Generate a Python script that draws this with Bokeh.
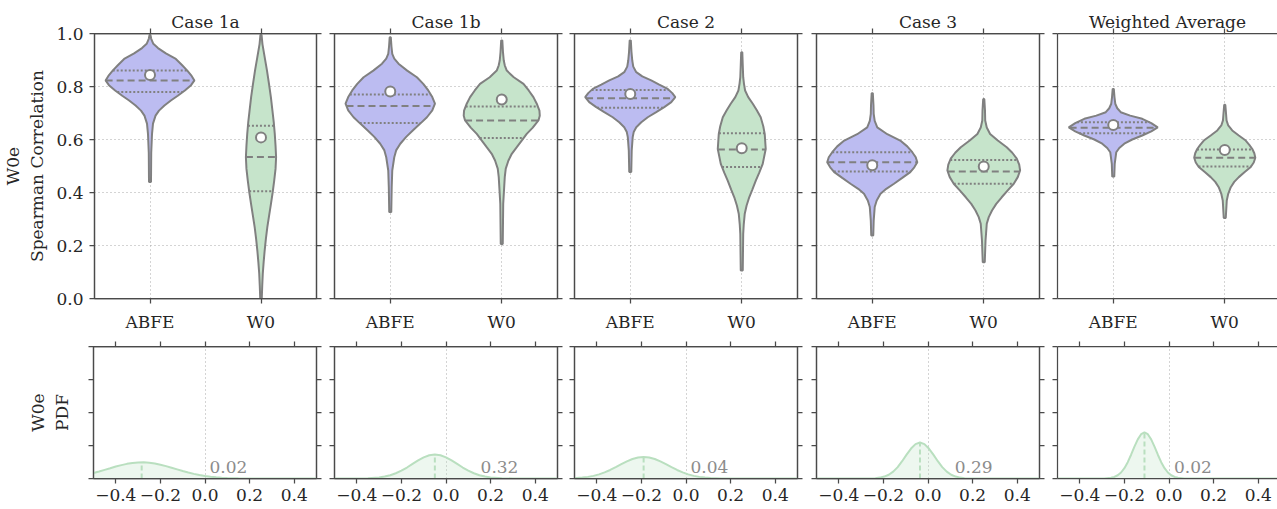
import numpy as np
from bokeh.plotting import figure
from bokeh.layouts import row, column
from bokeh.models import LinearAxis, FixedTicker, Range1d, Label, CustomJSTickFormatter
from bokeh.embed import file_html
from bokeh.resources import INLINE

# ---------------- data ----------------
cases = ["Case 1a", "Case 1b", "Case 2", "Case 3", "Weighted Average"]
methods = ["ABFE", "W0"]

# violin profiles: Spearman correlation value and half width (category units)
c1a_abfe_y = [0.995, 0.98, 0.961, 0.945, 0.925, 0.904, 0.88, 0.86, 0.84, 0.823, 0.805, 0.785, 0.765, 0.747, 0.728, 0.709, 0.69, 0.66, 0.62, 0.55, 0.44]
c1a_abfe_w = [0.004, 0.011, 0.030, 0.072, 0.143, 0.233, 0.290, 0.336, 0.375, 0.400, 0.370, 0.314, 0.250, 0.188, 0.130, 0.081, 0.050, 0.027, 0.018, 0.011, 0.009]
c1a_w0_y = [0.995, 0.96, 0.911, 0.86, 0.81, 0.76, 0.709, 0.665, 0.621, 0.577, 0.533, 0.489, 0.445, 0.40, 0.358, 0.313, 0.269, 0.225, 0.181, 0.138, 0.094, 0.047, 0.0]
c1a_w0_w = [0.005, 0.013, 0.033, 0.054, 0.072, 0.089, 0.103, 0.115, 0.124, 0.131, 0.136, 0.131, 0.119, 0.105, 0.090, 0.073, 0.057, 0.044, 0.033, 0.024, 0.016, 0.011, 0.007]

c1b_abfe_y = [0.986, 0.95, 0.923, 0.905, 0.886, 0.86, 0.835, 0.81, 0.785, 0.76, 0.735, 0.71, 0.684, 0.66, 0.634, 0.61, 0.584, 0.56, 0.533, 0.483, 0.42, 0.326]
c1b_abfe_w = [0.005, 0.011, 0.018, 0.036, 0.074, 0.152, 0.239, 0.296, 0.341, 0.377, 0.401, 0.377, 0.329, 0.269, 0.202, 0.143, 0.090, 0.054, 0.036, 0.018, 0.013, 0.009]
c1b_w0_y = [0.974, 0.93, 0.898, 0.88, 0.86, 0.835, 0.81, 0.785, 0.76, 0.735, 0.709, 0.69, 0.672, 0.645, 0.621, 0.596, 0.571, 0.546, 0.521, 0.49, 0.458, 0.357, 0.206]
c1b_w0_w = [0.005, 0.011, 0.018, 0.027, 0.045, 0.108, 0.195, 0.242, 0.284, 0.314, 0.338, 0.341, 0.329, 0.278, 0.224, 0.179, 0.135, 0.090, 0.060, 0.036, 0.027, 0.013, 0.009]

c2_abfe_y = [0.974, 0.93, 0.898, 0.875, 0.854, 0.838, 0.823, 0.807, 0.791, 0.775, 0.76, 0.741, 0.722, 0.703, 0.684, 0.665, 0.646, 0.628, 0.609, 0.558, 0.477]
c2_abfe_w = [0.005, 0.011, 0.018, 0.027, 0.054, 0.108, 0.188, 0.260, 0.336, 0.377, 0.404, 0.368, 0.305, 0.233, 0.157, 0.099, 0.054, 0.031, 0.022, 0.013, 0.009]
c2_w0_y = [0.929, 0.88, 0.835, 0.81, 0.785, 0.76, 0.735, 0.71, 0.684, 0.65, 0.621, 0.564, 0.508, 0.475, 0.445, 0.41, 0.382, 0.35, 0.32, 0.28, 0.244, 0.106]
c2_w0_w = [0.005, 0.009, 0.013, 0.020, 0.030, 0.058, 0.099, 0.135, 0.170, 0.193, 0.206, 0.215, 0.188, 0.157, 0.126, 0.094, 0.067, 0.043, 0.027, 0.018, 0.013, 0.009]

c3_abfe_y = [0.775, 0.73, 0.697, 0.67, 0.646, 0.62, 0.596, 0.574, 0.552, 0.533, 0.514, 0.495, 0.477, 0.455, 0.433, 0.414, 0.395, 0.37, 0.345, 0.294, 0.238]
c3_abfe_w = [0.005, 0.011, 0.013, 0.022, 0.045, 0.135, 0.251, 0.314, 0.359, 0.390, 0.404, 0.377, 0.341, 0.269, 0.195, 0.126, 0.074, 0.040, 0.022, 0.013, 0.009]
c3_w0_y = [0.753, 0.71, 0.672, 0.645, 0.621, 0.596, 0.571, 0.55, 0.528, 0.505, 0.483, 0.458, 0.433, 0.408, 0.382, 0.357, 0.332, 0.307, 0.282, 0.219, 0.137]
c3_w0_w = [0.005, 0.011, 0.013, 0.027, 0.057, 0.126, 0.206, 0.256, 0.296, 0.318, 0.326, 0.305, 0.269, 0.215, 0.161, 0.112, 0.074, 0.045, 0.027, 0.016, 0.009]

wa_abfe_y = [0.791, 0.76, 0.735, 0.718, 0.703, 0.69, 0.678, 0.662, 0.646, 0.631, 0.615, 0.60, 0.584, 0.568, 0.552, 0.508, 0.46]
wa_abfe_w = [0.005, 0.011, 0.018, 0.036, 0.067, 0.152, 0.260, 0.341, 0.399, 0.341, 0.260, 0.170, 0.099, 0.054, 0.027, 0.013, 0.009]
wa_w0_y = [0.731, 0.70, 0.672, 0.653, 0.634, 0.615, 0.596, 0.58, 0.564, 0.548, 0.531, 0.513, 0.496, 0.477, 0.458, 0.44, 0.42, 0.395, 0.37, 0.304]
wa_w0_w = [0.005, 0.011, 0.016, 0.031, 0.067, 0.126, 0.188, 0.220, 0.247, 0.265, 0.274, 0.260, 0.233, 0.179, 0.126, 0.085, 0.054, 0.031, 0.018, 0.009]

# quartiles (q1, median, q3) and means
abfe_q1 = [0.779, 0.662, 0.720, 0.479, 0.624]
abfe_med = [0.823, 0.726, 0.756, 0.514, 0.644]
abfe_q3 = [0.860, 0.770, 0.787, 0.552, 0.665]
abfe_mean = [0.843, 0.781, 0.772, 0.503, 0.655]
w0_q1 = [0.405, 0.606, 0.496, 0.433, 0.498]
w0_med = [0.534, 0.672, 0.562, 0.479, 0.531]
w0_q3 = [0.652, 0.725, 0.624, 0.523, 0.562]
w0_mean = [0.608, 0.751, 0.567, 0.498, 0.560]

# PDF of the difference (W0e - ABFE)
pdf1a_x = [-0.5, -0.475, -0.45, -0.425, -0.4, -0.375, -0.35, -0.325, -0.3, -0.275, -0.25, -0.225, -0.2, -0.175, -0.15, -0.125, -0.1, -0.075, -0.05, -0.025, 0.0, 0.025, 0.05, 0.075, 0.1, 0.125, 0.15, 0.2, 0.25, 0.5]
pdf1a_y = [0.93, 1.17, 1.44, 1.71, 1.99, 2.23, 2.44, 2.60, 2.68, 2.70, 2.63, 2.49, 2.30, 2.06, 1.79, 1.52, 1.25, 1.00, 0.77, 0.58, 0.43, 0.31, 0.21, 0.14, 0.09, 0.06, 0.04, 0.01, 0.0, 0.0]
pdf1b_x = [-0.5, -0.4, -0.35, -0.3, -0.275, -0.25, -0.225, -0.2, -0.175, -0.15, -0.125, -0.1, -0.075, -0.05, -0.025, 0.0, 0.025, 0.05, 0.075, 0.1, 0.125, 0.15, 0.175, 0.2, 0.25, 0.3, 0.5]
pdf1b_y = [0.0, 0.01, 0.04, 0.18, 0.32, 0.54, 0.87, 1.30, 1.83, 2.43, 3.02, 3.53, 3.88, 4.00, 3.88, 3.53, 3.02, 2.43, 1.83, 1.30, 0.87, 0.54, 0.32, 0.18, 0.04, 0.01, 0.0]
pdf2_x = [-0.5, -0.49, -0.465, -0.44, -0.415, -0.39, -0.365, -0.34, -0.315, -0.29, -0.265, -0.24, -0.215, -0.19, -0.165, -0.14, -0.115, -0.09, -0.065, -0.04, -0.015, 0.01, 0.035, 0.06, 0.085, 0.11, 0.16, 0.5]
pdf2_y = [0.07, 0.09, 0.16, 0.27, 0.44, 0.69, 1.02, 1.42, 1.89, 2.38, 2.85, 3.25, 3.51, 3.60, 3.51, 3.25, 2.85, 2.38, 1.89, 1.42, 1.02, 0.69, 0.44, 0.27, 0.16, 0.09, 0.02, 0.0]
pdf3_x = [-0.5, -0.276, -0.236, -0.216, -0.196, -0.176, -0.156, -0.136, -0.116, -0.096, -0.076, -0.056, -0.036, -0.016, 0.004, 0.024, 0.044, 0.064, 0.084, 0.104, 0.124, 0.144, 0.164, 0.204, 0.5]
pdf3_y = [0.0, 0.01, 0.06, 0.15, 0.32, 0.63, 1.15, 1.90, 2.88, 3.97, 4.99, 5.73, 6.00, 5.73, 4.99, 3.97, 2.88, 1.90, 1.15, 0.63, 0.32, 0.15, 0.06, 0.01, 0.0]
pdfwa_x = [-0.5, -0.29, -0.26, -0.245, -0.23, -0.215, -0.2, -0.185, -0.17, -0.155, -0.14, -0.125, -0.11, -0.095, -0.08, -0.065, -0.05, -0.035, -0.02, -0.005, 0.01, 0.025, 0.04, 0.07, 0.5]
pdfwa_y = [0.0, 0.02, 0.12, 0.26, 0.54, 1.00, 1.72, 2.72, 3.96, 5.30, 6.52, 7.38, 7.70, 7.38, 6.52, 5.30, 3.96, 2.72, 1.72, 1.00, 0.54, 0.26, 0.12, 0.02, 0.0]
pdf_mean = [-0.284, -0.05, -0.19, -0.036, -0.11]
prob_text = ["0.02", "0.32", "0.04", "0.29", "0.02"]
prob_x = [0.02, 0.155, 0.02, 0.12, 0.022]

violins = [
    ((c1a_abfe_y, c1a_abfe_w), (c1a_w0_y, c1a_w0_w)),
    ((c1b_abfe_y, c1b_abfe_w), (c1b_w0_y, c1b_w0_w)),
    ((c2_abfe_y, c2_abfe_w), (c2_w0_y, c2_w0_w)),
    ((c3_abfe_y, c3_abfe_w), (c3_w0_y, c3_w0_w)),
    ((wa_abfe_y, wa_abfe_w), (wa_w0_y, wa_w0_w)),
]
pdfs = [(pdf1a_x, pdf1a_y), (pdf1b_x, pdf1b_y), (pdf2_x, pdf2_y), (pdf3_x, pdf3_y), (pdfwa_x, pdfwa_y)]

# ---------------- style / layout ----------------
FONT = "DejaVu Serif"
FS = "17px"
TXT = "#262626"
EDGE = "#4a4a4a"
GRAY = "#808080"
GRID = "#a8a8a8"
C_ABFE = "#bcbcf1"
C_W0 = "#c6e4cb"
C_PDF = "#b9dfbf"

widths = [325, 241, 240, 242, 229]
b_left = [93, 9, 8, 10, 9]
b_right = [9, 9, 9, 9, 0]
top_xend = [1.5, 1.5, 1.5, 1.5, 1.473]
bot_xend = [0.5, 0.5, 0.5, 0.5, 0.4865]
TOP_H = 337
BOT_H = 172

fmt1 = CustomJSTickFormatter(code="return tick.toFixed(1).replace('-', '\u2212');")
fmt_blank = CustomJSTickFormatter(code="return '';")


def style_axis(ax, standoff=5, blank=False):
    ax.major_tick_out = 5
    ax.major_tick_in = 0
    ax.minor_tick_line_color = None
    ax.axis_line_color = EDGE
    ax.axis_line_width = 1.25
    ax.major_tick_line_color = EDGE
    ax.major_tick_line_width = 1.25
    ax.major_label_text_font = FONT
    ax.major_label_text_font_size = FS
    ax.major_label_text_color = TXT
    ax.major_label_standoff = standoff
    ax.axis_label_text_font = FONT
    ax.axis_label_text_font_size = FS
    ax.axis_label_text_font_style = "normal"
    ax.axis_label_text_color = TXT
    if blank:
        ax.formatter = fmt_blank
        ax.major_label_text_font_size = "1px"
        ax.major_label_text_color = None
        ax.major_label_standoff = 0


def base_fig(i, h, top, bottom, xr, yr):
    p = figure(width=widths[i], height=h, x_range=xr, y_range=yr,
               output_backend="svg", toolbar_location=None, title=None,
               min_border_left=b_left[i], min_border_right=b_right[i],
               min_border_top=top, min_border_bottom=bottom)
    p.outline_line_color = EDGE if i < 4 else None
    p.outline_line_width = 1.25
    p.background_fill_color = "white"
    p.border_fill_color = "white"
    return p


top_figs = []
bot_figs = []
for i, case in enumerate(cases):
    # ---------- violin panel ----------
    p = base_fig(i, TOP_H, 33, 39, Range1d(-0.5, top_xend[i]), Range1d(0, 1))
    p.xaxis.ticker = FixedTicker(ticks=[0, 1])
    style_axis(p.xaxis[0], standoff=8)
    p.xaxis.major_label_overrides = {k: m for k, m in enumerate(methods)}
    p.yaxis.ticker = FixedTicker(ticks=[0, 0.2, 0.4, 0.6, 0.8, 1.0])
    if i == 0:
        style_axis(p.yaxis[0], standoff=6)
        p.yaxis.formatter = fmt1
        p.yaxis.axis_label = "W0e\nSpearman Correlation"
        p.yaxis.axis_label_standoff = 6
    else:
        style_axis(p.yaxis[0], blank=True)
    ta = LinearAxis(ticker=FixedTicker(ticks=[0, 1]), axis_label=case)
    style_axis(ta, blank=True)
    ta.axis_label_standoff = -3
    p.add_layout(ta, "above")
    if i < 4:
        ra = LinearAxis(ticker=FixedTicker(ticks=[0, 0.2, 0.4, 0.6, 0.8, 1.0]))
        style_axis(ra, blank=True)
        p.add_layout(ra, "right")
    p.xgrid.ticker = FixedTicker(ticks=[0, 1])
    p.ygrid.ticker = FixedTicker(ticks=[0.2, 0.4, 0.6, 0.8])
    for g in (p.xgrid[0], p.ygrid[0]):
        g.grid_line_color = GRID
        g.grid_line_dash = "1 3"
        g.grid_line_width = 1

    stats = [(abfe_q1, abfe_med, abfe_q3, abfe_mean, C_ABFE), (w0_q1, w0_med, w0_q3, w0_mean, C_W0)]
    for k, (prof, st) in enumerate(zip(violins[i], stats)):
        vy = np.array(prof[0])
        vw = np.array(prof[1])
        xs = np.concatenate([k + vw, (k - vw)[::-1]])
        ys = np.concatenate([vy, vy[::-1]])
        p.patch(xs, ys, fill_color=st[4], line_color=GRAY, line_width=2)
        for q, dash in ((st[0][i], "2 2"), (st[1][i], "7 4"), (st[2][i], "2 2")):
            hw = np.interp(q, vy[::-1], vw[::-1])
            p.segment(x0=[k - hw], x1=[k + hw], y0=[q], y1=[q],
                      line_color=GRAY, line_width=2, line_dash=dash)
        p.scatter([k], [st[3][i]], size=10, fill_color="white",
                  line_color=GRAY, line_width=2)
    top_figs.append(p)

    # ---------- PDF panel ----------
    q = base_fig(i, BOT_H, 9, 31, Range1d(-0.5, bot_xend[i]), Range1d(0, 22))
    q.xaxis.ticker = FixedTicker(ticks=[-0.4, -0.2, 0.0, 0.2, 0.4])
    style_axis(q.xaxis[0], standoff=5)
    q.xaxis.formatter = fmt1
    q.yaxis.ticker = FixedTicker(ticks=[0, 5.5, 11, 16.5, 22])
    style_axis(q.yaxis[0], blank=True)
    if i == 0:
        q.yaxis.axis_label = "W0e\nPDF"
        q.yaxis.axis_label_standoff = 17
    qa = LinearAxis(ticker=FixedTicker(ticks=[-0.4, -0.2, 0.0, 0.2, 0.4]))
    style_axis(qa, blank=True)
    q.add_layout(qa, "above")
    if i < 4:
        qr = LinearAxis(ticker=FixedTicker(ticks=[0, 5.5, 11, 16.5, 22]))
        style_axis(qr, blank=True)
        q.add_layout(qr, "right")
    q.xgrid.ticker = FixedTicker(ticks=[0])
    q.xgrid.grid_line_color = GRID
    q.xgrid.grid_line_dash = "1 3"
    q.ygrid.grid_line_color = None

    px = np.array(pdfs[i][0])
    py = np.array(pdfs[i][1])
    q.varea(x=px, y1=np.zeros_like(py), y2=py, fill_color=C_PDF, fill_alpha=0.25)
    q.line(px, py, line_color=C_PDF, line_width=2)
    m = pdf_mean[i]
    q.segment(x0=[m], x1=[m], y0=[0], y1=[np.interp(m, px, py)],
              line_color=C_PDF, line_width=2, line_dash="5 3")
    q.add_layout(Label(x=prob_x[i], y=1.95, text=prob_text[i], text_font=FONT,
                       text_font_size=FS, text_color="#8c8c8c",
                       text_baseline="middle"))
    bot_figs.append(q)

layout = column(row(*top_figs), row(*bot_figs))
open("out.html", "w").write(file_html(layout, INLINE))
